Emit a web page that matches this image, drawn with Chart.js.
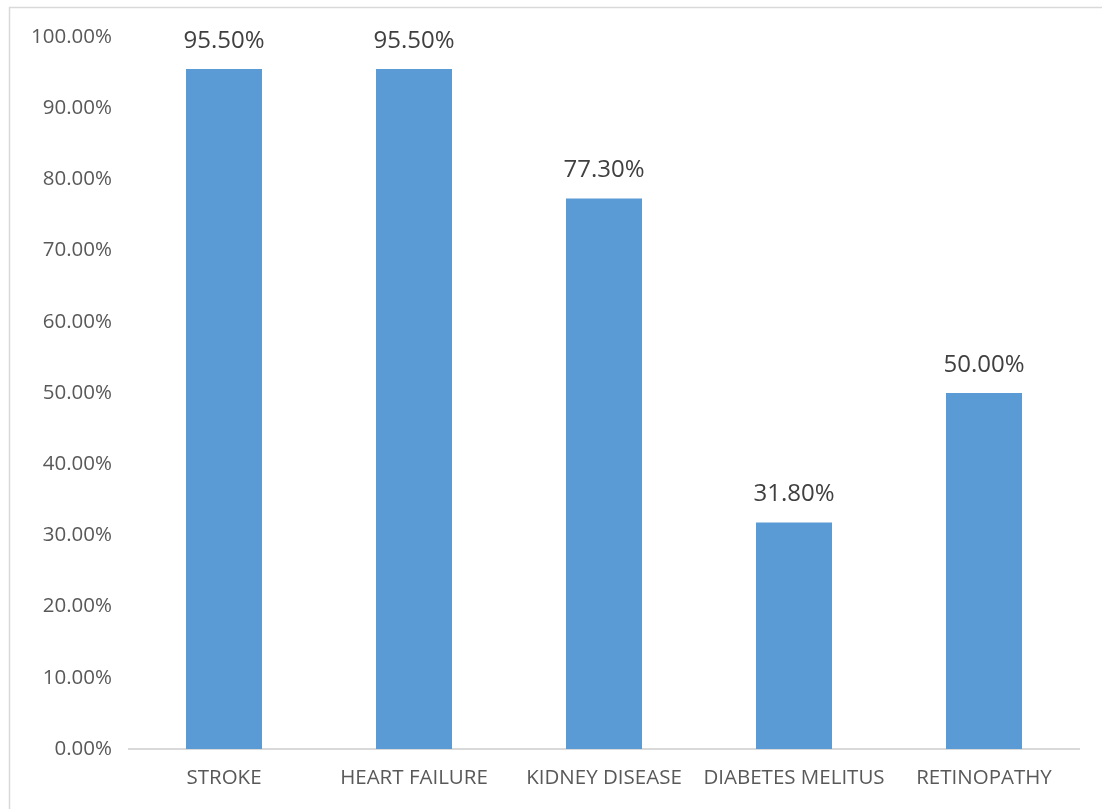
<!DOCTYPE html>
<html>
<head>
<meta charset="utf-8">
<script src="https://cdn.jsdelivr.net/npm/chart.js@4"></script>
<style>
    html, body { margin: 0; padding: 0; background: #fff; }
    #wrap { position: relative; width: 1102px; height: 809px; }
</style>
</head>
<body>
<div id="wrap"><canvas id="barChart" width="1102" height="809"></canvas></div>
<script>
(function () {
    "use strict";

    var categories = ["STROKE", "HEART FAILURE", "KIDNEY DISEASE", "DIABETES MELITUS", "RETINOPATHY"];
    var percentages = [95.5, 95.5, 77.3, 31.8, 50.0];
    var yTicks = [0, 10, 20, 30, 40, 50, 60, 70, 80, 90, 100];

    var FONT = "'Open Sans', 'Liberation Sans', sans-serif";

    // light frame around the whole chart
    var frame = {
        id: "frame",
        beforeDraw: function (chart) {
            var c = chart.ctx;
            c.save();
            c.fillStyle = "#ffffff";
            c.fillRect(0, 0, chart.width, chart.height);
            c.strokeStyle = "#d9d9d9";
            c.lineWidth = 1.5;
            c.strokeRect(9.5, 7.5, chart.width + 10, chart.height + 10);
            c.restore();
        }
    };

    // value labels above each bar
    var valueLabels = {
        id: "valueLabels",
        afterDatasetsDraw: function (chart) {
            var c = chart.ctx;
            var meta = chart.getDatasetMeta(0);
            c.save();
            c.font = "24px " + FONT;
            c.fillStyle = "#404040";
            c.textAlign = "center";
            c.textBaseline = "middle";
            meta.data.forEach(function (bar, i) {
                c.fillText(percentages[i].toFixed(2) + "%", bar.x, bar.y - 28);
            });
            c.restore();
        }
    };

    new Chart(document.getElementById("barChart").getContext("2d"), {
        type: "bar",
        data: {
            labels: categories,
            datasets: [{
                data: percentages,
                backgroundColor: "#5b9bd5",
                borderWidth: 0,
                categoryPercentage: 1,
                barPercentage: 0.4
            }]
        },
        options: {
            responsive: false,
            animation: false,
            layout: { padding: { top: 37, right: 23, left: 0, bottom: 0 } },
            plugins: {
                legend: { display: false },
                tooltip: { enabled: false }
            },
            scales: {
                x: {
                    grid: { display: false },
                    border: { color: "#d9d9d9", width: 2 },
                    ticks: {
                        color: "#595959",
                        font: { family: FONT, size: 20.5 },
                        padding: 9,
                        maxRotation: 0,
                        autoSkip: false
                    },
                    afterFit: function (scale) { scale.height = 60; }
                },
                y: {
                    min: 0,
                    max: 100,
                    grid: { display: false },
                    border: { display: false },
                    afterBuildTicks: function (scale) {
                        scale.ticks = yTicks.map(function (v) { return { value: v }; });
                    },
                    ticks: {
                        color: "#595959",
                        font: { family: FONT, size: 20.5 },
                        padding: 9,
                        callback: function (v) { return v.toFixed(2) + "%"; }
                    },
                    afterFit: function (scale) { scale.width = 129; }
                }
            }
        },
        plugins: [frame, valueLabels]
    });
})();
</script>
</body>
</html>
